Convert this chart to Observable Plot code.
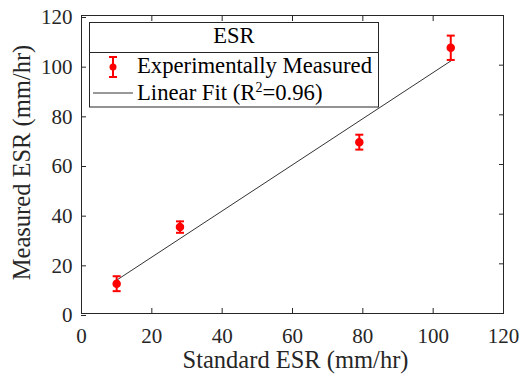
<!DOCTYPE html>
<html>
<head>
<meta charset="utf-8">
<script src="https://cdn.jsdelivr.net/npm/d3@7"></script>
<script src="https://cdn.jsdelivr.net/npm/@observablehq/plot@0.6"></script>
<style>
  html, body { margin: 0; padding: 0; background: #fff; }
  #chart { width: 522px; height: 375px; }
  #chart svg, #chart svg text { font-family: "Liberation Serif", "Times New Roman", "DejaVu Serif", serif; }
</style>
</head>
<body>
<div id="chart"></div>
<script>
// Data
const standardESR = [10, 28, 79, 105];
const measuredESR = [12, 34.8, 69, 107];
const errorESR    = [3, 2.3, 3, 4.9];
const xTicks = [0, 20, 40, 60, 80, 100, 120];
const yTicks = [0, 20, 40, 60, 80, 100, 120];
const xLabel = "Standard ESR (mm/hr)";
const yLabel = "Measured ESR (mm/hr)";
const legendTitle = "ESR";
const seriesNames = ["Experimentally Measured", "Linear Fit (R", "2", "=0.96)"];

const data = standardESR.map((x, i) => ({x, y: measuredESR[i], e: errorESR[i]}));

const axisColor = "#262626";
const capSymbol = {
  draw(ctx) { ctx.moveTo(-4, 0); ctx.lineTo(4, 0); }
};

const plot = Plot.plot({
  width: 522,
  height: 375,
  marginLeft: 81,
  marginRight: 19,
  marginTop: 15,
  marginBottom: 62,
  style: "font-family: 'Liberation Serif', 'Times New Roman', serif; font-size: 21px; color: #262626; background: #fff;",
  x: {domain: [0, 120]},
  y: {domain: [0, 120]},
  marks: [
    Plot.frame({stroke: axisColor, strokeWidth: 1}),
    Plot.axisX(xTicks, {anchor: "bottom", tickSize: -5, tickPadding: 20, stroke: axisColor, fill: axisColor, label: null}),
    Plot.axisX(xTicks, {anchor: "top", tickSize: -5, tickFormat: () => "", stroke: axisColor, label: null}),
    Plot.axisY(yTicks, {anchor: "left", tickSize: -5, tickPadding: 14, dy: 2, stroke: axisColor, fill: axisColor, label: null}),
    Plot.axisY(yTicks, {anchor: "right", tickSize: -5, tickFormat: () => "", stroke: axisColor, label: null}),
    Plot.text([xLabel], {frameAnchor: "bottom", dy: 47, dx: 3, lineAnchor: "middle", textAnchor: "middle", fontSize: 24.5, fill: axisColor, text: d => d}),
    Plot.text([yLabel], {frameAnchor: "left", dx: -59, dy: -2, rotate: -90, lineAnchor: "middle", textAnchor: "middle", fontSize: 24.5, fill: axisColor, text: d => d}),
    Plot.linearRegressionY(data, {x: "x", y: "y", stroke: "#333", strokeWidth: 1, ci: 0}),
    Plot.ruleX(data, {x: "x", y1: d => d.y - d.e, y2: d => d.y + d.e, stroke: "red", strokeWidth: 2}),
    Plot.dot(data, {x: "x", y: d => d.y - d.e, symbol: capSymbol, stroke: "red", strokeWidth: 2, fill: "none"}),
    Plot.dot(data, {x: "x", y: d => d.y + d.e, symbol: capSymbol, stroke: "red", strokeWidth: 2, fill: "none"}),
    Plot.dot(data, {x: "x", y: "y", r: 3.5, fill: "red", stroke: "red"})
  ]
});

document.getElementById("chart").appendChild(plot);

// Legend (inside the axes, top-left, MATLAB style)
const svg = d3.select(plot);
const lg = svg.append("g").style("font-family", "'Liberation Serif', 'Times New Roman', serif").attr("fill", "#000").attr("text-anchor", "start");
lg.append("rect").attr("x", 89.5).attr("y", 22.5).attr("width", 289).attr("height", 84.5)
  .attr("fill", "#fff").attr("stroke", axisColor).attr("stroke-width", 1);
lg.append("line").attr("x1", 89.5).attr("x2", 378.5).attr("y1", 52.5).attr("y2", 52.5)
  .attr("stroke", axisColor).attr("stroke-width", 1);
lg.append("text").attr("x", 234).attr("y", 43).attr("text-anchor", "middle")
  .style("font-size", "22.5px").text(legendTitle);
// entry 1: error bar symbol
const ex = 113;
lg.append("line").attr("x1", ex).attr("x2", ex).attr("y1", 57).attr("y2", 77).attr("stroke", "red").attr("stroke-width", 2);
lg.append("line").attr("x1", ex - 4).attr("x2", ex + 4).attr("y1", 57).attr("y2", 57).attr("stroke", "red").attr("stroke-width", 2);
lg.append("line").attr("x1", ex - 4).attr("x2", ex + 4).attr("y1", 77).attr("y2", 77).attr("stroke", "red").attr("stroke-width", 2);
lg.append("circle").attr("cx", ex).attr("cy", 67).attr("r", 3.5).attr("fill", "red");
lg.append("text").attr("x", 137).attr("y", 73).style("font-size", "22.7px").text(seriesNames[0]);
// entry 2: line
lg.append("line").attr("x1", 93).attr("x2", 133).attr("y1", 93).attr("y2", 93).attr("stroke", "#333").attr("stroke-width", 1);
const t2 = lg.append("text").attr("x", 137).attr("y", 99.5).style("font-size", "22.7px");
t2.append("tspan").text(seriesNames[1]);
t2.append("tspan").style("font-size", "14px").attr("dy", -8).text(seriesNames[2]);
t2.append("tspan").attr("dy", 8).text(seriesNames[3]);
</script>
</body>
</html>
